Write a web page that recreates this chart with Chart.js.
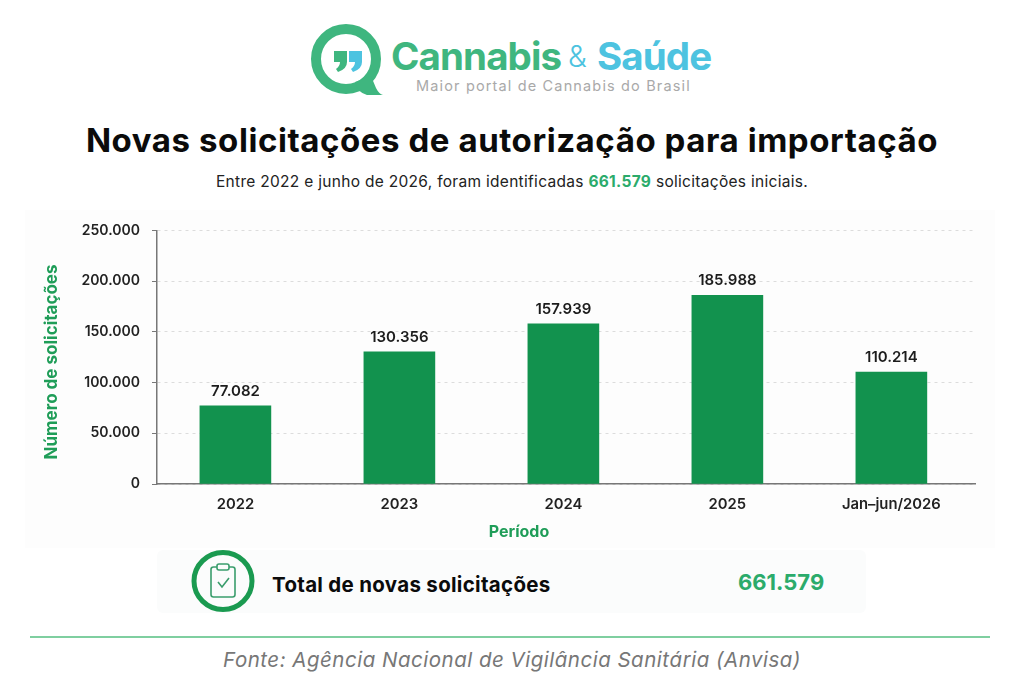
<!DOCTYPE html>
<html lang="pt-BR">
<head>
<meta charset="utf-8">
<title>Novas solicitações de autorização para importação</title>
<script src="https://cdn.jsdelivr.net/npm/chart.js@4"></script>
<style>
  html, body { margin: 0; padding: 0; background: #fff; }
  #page { position: relative; width: 1024px; height: 682px; overflow: hidden; font-family: Inter, sans-serif; }
  #page > * { position: absolute; white-space: nowrap; }
  .center { left: 0; width: 1024px; text-align: center; }
  #panel { left: 25px; top: 210px; width: 970px; height: 338px; background: #fdfdfd; }
  #chartBox { left: 25px; top: 210px; width: 970px; height: 338px; }
  #totalBox { left: 157px; top: 550px; width: 709px; height: 63px; background: #fbfcfc; border-radius: 6px; }
  #rule { left: 30px; top: 636px; width: 960px; height: 2px; background: #7fcfa0; }
</style>
</head>
<body>
<div id="page">
  <svg style="left:305px;top:20px" width="85" height="80" viewBox="0 0 85 80">
    <circle cx="41" cy="39" r="30" fill="none" stroke="#3fb67f" stroke-width="10"/>
    <path d="M50 62 L66 56 L71 68 Q74 74 78 75 L62 75 Q53 73 50 62 Z" fill="#3fb67f"/>
    <path d="M29 31 H42 V42 Q42 49 33 52 L31 49 Q35 46 35 42 H29 Z" fill="#3fb67f"/>
    <path d="M44 31 H57 V42 Q57 49 48 52 L46 49 Q50 46 50 42 H44 Z" fill="#4dc3e0"/>
  </svg>
  <div style="left:391px;top:33px;font-size:38.5px;font-weight:700;color:#3fb67f;letter-spacing:-0.9px">Cannabis</div>
  <div style="left:568px;top:38px;font-size:30px;font-weight:300;color:#4dc3e0">&amp;</div>
  <div style="left:597px;top:33px;font-size:38.5px;font-weight:700;color:#4dc3e0;letter-spacing:-0.9px">Saúde</div>
  <div style="left:416px;top:77px;font-size:14.5px;color:#a9a9a9;letter-spacing:1.15px">Maior portal de Cannabis do Brasil</div>

  <div class="center" style="top:120px;font-size:33px;font-weight:700;color:#0b0b0b;letter-spacing:0.57px">Novas solicitações de autorização para importação</div>
  <div class="center" style="top:172px;font-size:15.5px;color:#222;letter-spacing:0.3px">Entre 2022 e junho de 2026, foram identificadas <b style="color:#2bab6b">661.579</b> solicitações iniciais.</div>

  <div id="panel"></div>
  <div id="chartBox"><canvas id="chart" width="970" height="338"></canvas></div>

  <div id="totalBox"></div>
  <svg style="left:190px;top:549px" width="66" height="64" viewBox="0 0 66 64">
    <ellipse cx="33" cy="32" rx="29" ry="28.5" fill="none" stroke="#1a9a50" stroke-width="5"/>
    <rect x="21" y="18" width="24" height="30" rx="2.5" fill="none" stroke="#3a9d6c" stroke-width="1.6"/>
    <rect x="27" y="15" width="12" height="6" rx="2" fill="#fbfcfc" stroke="#3a9d6c" stroke-width="1.6"/>
    <path d="M28 33 L32 38 L39 29" fill="none" stroke="#3a9d6c" stroke-width="1.6"/>
  </svg>
  <div style="left:272px;top:572px;font-size:20.5px;font-weight:700;color:#0b0b0b;letter-spacing:0.3px">Total de novas solicitações</div>
  <div style="left:738px;top:569px;font-size:22px;font-weight:700;color:#2bab6b">661.579</div>
  <div id="rule"></div>
  <div class="center" style="top:647px;font-size:20.5px;font-style:italic;color:#777;letter-spacing:0.5px">Fonte: Agência Nacional de Vigilância Sanitária (Anvisa)</div>
</div>

<script>
const categories = ["2022", "2023", "2024", "2025", "Jan–jun/2026"];
const valueLabels = ["77.082", "130.356", "157.939", "185.988", "110.214"];
const values = [77082, 130356, 157939, 185988, 110214];
const yTicks = [0, 50000, 100000, 150000, 200000, 250000];
const yTickLabels = ["0", "50.000", "100.000", "150.000", "200.000", "250.000"];
const xTitle = "Período";
const yTitle = "Número de solicitações";

const FONT = "Inter, sans-serif";
const GREEN = "#12924e";
const TITLE_GREEN = "#1f9d58";

// numbers above the bars
const barLabels = {
  id: "barLabels",
  afterDatasetsDraw(chart) {
    const ctx = chart.ctx;
    const bars = chart.getDatasetMeta(0).data;
    ctx.save();
    ctx.font = "600 15px " + FONT;
    ctx.fillStyle = "#1c1c1c";
    ctx.textAlign = "center";
    ctx.textBaseline = "bottom";
    bars.forEach((bar, i) => ctx.fillText(valueLabels[i], bar.x, bar.y - 7));
    ctx.restore();
  }
};

// axis titles are off centre in the original, so the built in ones can't be used
const axisTitles = {
  id: "axisTitles",
  afterDraw(chart) {
    const ctx = chart.ctx;
    ctx.save();
    ctx.fillStyle = TITLE_GREEN;
    ctx.textAlign = "center";
    ctx.textBaseline = "middle";
    ctx.font = "700 16px " + FONT;
    ctx.fillText(xTitle, 494, 322);
    ctx.font = "700 17px " + FONT;
    ctx.translate(27, 152);
    ctx.rotate(-Math.PI / 2);
    ctx.fillText(yTitle, 0, 0);
    ctx.restore();
  }
};

new Chart(document.getElementById("chart"), {
  type: "bar",
  data: {
    datasets: [{
      data: values.map((v, i) => ({ x: i, y: v })),
      backgroundColor: GREEN,
      barThickness: 71
    }]
  },
  plugins: [barLabels, axisTitles],
  options: {
    responsive: false,
    animation: false,
    layout: { padding: { top: 18, right: 20, left: 17, bottom: 0 } },
    plugins: { legend: { display: false }, tooltip: { enabled: false } },
    scales: {
      x: {
        type: "linear",
        offset: false,
        // the bars sit a little left of even spacing in the original
        min: -0.478,
        max: 4.51,
        afterBuildTicks: axis => { axis.ticks = categories.map((c, i) => ({ value: i })); },
        afterFit: axis => { axis.height = 64; },
        grid: { display: false },
        border: { color: "#777", width: 1.5 },
        ticks: {
          autoSkip: false,
          maxRotation: 0,
          padding: 4,
          color: "#222",
          font: { family: FONT, size: 14.8, weight: "600" },
          callback: v => categories[v]
        }
      },
      y: {
        min: 0,
        max: 250000,
        afterBuildTicks: axis => { axis.ticks = yTicks.map(v => ({ value: v })); },
        afterFit: axis => { axis.width = 115; },
        grid: {
          color: "#dcdcdc",
          tickColor: "#777",
          tickLength: 5,
          tickBorderDash: [],
          drawTicks: true
        },
        border: { color: "#777", width: 1.5, dash: [3, 4] },
        ticks: {
          padding: 12,
          color: "#222",
          font: { family: FONT, size: 14, weight: "600" },
          callback: v => yTickLabels[yTicks.indexOf(v)]
        }
      }
    }
  }
});
</script>
</body>
</html>
